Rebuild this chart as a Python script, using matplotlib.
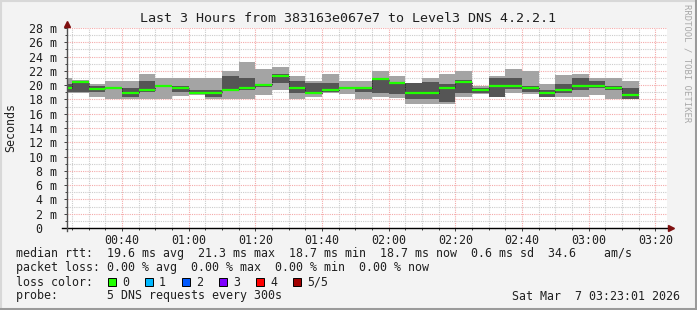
import matplotlib
matplotlib.use("Agg")
import matplotlib.pyplot as plt
import numpy as np
from matplotlib.patches import Rectangle
from matplotlib.lines import Line2D

# 5 pings per step, sorted: p1 (min) .. p5 (max), med = median  (ms)
p1 = [18.9, 18.9, 18.3, 18.0, 18.0, 18.0, 18.0, 18.5, 18.6, 18.0, 18.0, 18.0,
      18.6, 19.35, 18.0, 18.4, 18.9, 18.7, 18.0, 18.35, 18.2, 17.3, 17.4, 17.3,
      18.4, 18.7, 18.35, 18.95, 18.7, 18.35, 18.3, 18.35, 18.65, 18.0, 18.0]
p2 = [19.0, 19.0, 19.0, 19.5, 18.35, 19.0, 19.7, 19.0, 18.7, 18.3, 19.2, 19.3,
      19.7, 20.35, 18.95, 18.7, 19.0, 19.45, 19.0, 18.95, 18.7, 18.1, 18.0, 17.6,
      18.95, 18.9, 18.4, 19.4, 19.0, 18.4, 18.95, 19.3, 19.6, 19.3, 18.0]
med = [19.65, 20.5, 19.4, 19.6, 18.9, 19.3, 19.9, 19.6, 18.95, 18.95, 19.35, 19.65,
       20.05, 21.3, 19.6, 18.95, 19.35, 19.6, 19.6, 20.9, 20.35, 18.95, 18.95, 19.65,
       20.4, 19.35, 19.95, 19.95, 19.65, 18.95, 19.35, 19.9, 19.9, 19.65, 18.65]
p4 = [20.2, 20.6, 19.9, 19.75, 19.6, 20.6, 20.0, 19.9, 19.3, 19.3, 21.3, 21.0,
      20.2, 21.6, 20.6, 20.3, 20.3, 19.75, 19.65, 21.05, 20.5, 20.25, 20.4, 20.1,
      20.7, 19.6, 21.0, 21.0, 19.95, 19.35, 20.2, 21.0, 20.65, 19.95, 19.6]
p5 = [21.0, 20.7, 20.1, 20.65, 20.65, 21.6, 21.0, 21.0, 21.0, 21.0, 22.0, 23.3,
      22.3, 22.6, 21.3, 20.6, 21.6, 20.65, 20.65, 22.0, 21.3, 20.3, 21.0, 21.55,
      22.0, 19.95, 21.3, 22.25, 22.0, 20.2, 21.35, 21.6, 21.0, 21.0, 20.65]

# time in minutes after midnight
t_begin = 23.5
t_end = 203.5
step_end = np.arange(25, 196, 5)
step_start = np.concatenate([[t_begin], step_end[:-1]])

xtick_pos = [40, 60, 80, 100, 120, 140, 160, 180, 200]
xtick_labels = ["00:40", "01:00", "01:20", "01:40", "02:00", "02:20", "02:40", "03:00", "03:20"]
ytick_pos = list(range(0, 29, 2))
ytick_labels = ["0  "] + [f"{v} m" for v in ytick_pos[1:]]

loss_labels = ["0", "1", "2", "3", "4", "5/5"]
loss_colors = ["#20ff00", "#00b8ff", "#0059ff", "#7e00ff", "#ff0000", "#a10000"]

W, H = 697, 310
mono = "DejaVu Sans Mono"
fs = 8.4
txt = "#202020"

def px(x, y):
    return x / W, 1 - y / H

fig = plt.figure(figsize=(W / 100, H / 100), dpi=100, facecolor="#f3f3f3")
ax = fig.add_axes([67 / W, 1 - 228 / H, 600 / W, 200 / H])
ax.set_facecolor("white")

lo = np.array(p1); hi = np.array(p5)
ilo = np.array(p2); ihi = np.array(p4)
widths = step_end - step_start
ax.bar(step_start, hi - lo, width=widths, bottom=lo, align="edge",
       color="#a4a4a4", linewidth=0, zorder=2)
ax.bar(step_start, ihi - ilo, width=widths, bottom=ilo, align="edge",
       color="#555555", linewidth=0, zorder=3)
ax.step(np.concatenate([step_start, [step_end[-1]]]), med + [med[-1]], where="post",
        color="#202020", lw=0.6, ls=(0, (1, 1)), zorder=4)
ax.hlines(med, step_start, step_end, color=loss_colors[0], lw=1.6, zorder=5)

ax.set_xlim(t_begin, t_end)
ax.set_ylim(0, 28)
ax.set_xticks(xtick_pos)
ax.set_xticklabels(xtick_labels)
ax.set_xticks(np.arange(25, 204, 5), minor=True)
ax.set_yticks(ytick_pos)
ax.set_yticklabels(ytick_labels)
ax.set_yticks(range(0, 29), minor=True)

ax.grid(which="minor", color="#cccccc", lw=0.8, ls=(0, (1, 1)), zorder=1)
ax.grid(which="major", color="#f4aaaa", lw=0.8, ls=(0, (1, 1)), zorder=1)
ax.set_axisbelow(True)

for lab in ax.get_xticklabels() + ax.get_yticklabels():
    lab.set_fontfamily(mono)
    lab.set_fontsize(fs)
    lab.set_color(txt)
ax.tick_params(which="both", direction="out", color="#404040", width=0.7)
ax.tick_params(which="major", length=2, pad=2)
ax.tick_params(which="minor", length=1.5)
ax.tick_params(axis="y", pad=5.5)

for s in ax.spines.values():
    s.set_visible(False)

# axes with arrows (rrdtool style)
fig.add_artist(Line2D([px(62, 0)[0], px(669, 0)[0]], [px(0, 228)[1]] * 2,
                      color="black", lw=1.0))
fig.add_artist(Line2D([px(67, 0)[0]] * 2, [px(0, 231)[1], px(0, 24)[1]],
                      color="#505050", lw=1.0))
fig.add_artist(Line2D([px(671, 0)[0]], [px(0, 228)[1]], marker=">", ms=4,
                      color="#7f1010", lw=0))
fig.add_artist(Line2D([px(67, 0)[0]], [px(0, 24)[1]], marker="^", ms=4,
                      color="#7f1010", lw=0))

# title and axis label
fig.text(*px(348, 19), "Last 3 Hours from 383163e067e7 to Level3 DNS 4.2.2.1",
         ha="center", va="center", family=mono, fontsize=9.6, color=txt)
fig.text(*px(11, 128), "Seconds", rotation=90, ha="center", va="center",
         family=mono, fontsize=fs, color=txt)
fig.text(*px(687, 4), "RRDTOOL / TOBI OETIKER", rotation=270, ha="center", va="top",
         family=mono, fontsize=6.4, color="#a8a8a8")

# legend block
rows = [
    "median rtt:  19.6 ms avg  21.3 ms max  18.7 ms min  18.7 ms now  0.6 ms sd  34.6    am/s",
    "packet loss: 0.00 % avg  0.00 % max  0.00 % min  0.00 % now",
    "loss color:",
    "probe:       5 DNS requests every 300s",
]
row_y = [254, 268, 282, 296]
for r, y in zip(rows, row_y):
    fig.text(*px(16, y), r, ha="left", va="center", family=mono, fontsize=fs, color=txt)

for i, (lab, col) in enumerate(zip(loss_labels, loss_colors)):
    x0 = 108 + i * 37
    fig.add_artist(Rectangle(px(x0, 286), 8 / W, 8 / H, transform=fig.transFigure,
                             facecolor=col, edgecolor="black", lw=0.7))
    fig.text(*px(x0 + 14, 282), lab, ha="left", va="center", family=mono,
             fontsize=fs, color=txt)

fig.text(*px(680, 296), "Sat Mar  7 03:23:01 2026", ha="right", va="center",
         family=mono, fontsize=fs, color=txt)

# 3d frame
fig.add_artist(Line2D([0, 1], [1 - 0.5 / H] * 2, color="#d8d8d8", lw=1.5))
fig.add_artist(Line2D([0.5 / W] * 2, [0, 1], color="#d8d8d8", lw=1.5))
fig.add_artist(Line2D([0, 1], [1.5 / H] * 2, color="#9a9a9a", lw=2.2))
fig.add_artist(Line2D([1 - 1.5 / W] * 2, [0, 1], color="#9a9a9a", lw=2.2))

fig.savefig("out.png", dpi=100, facecolor=fig.get_facecolor())
